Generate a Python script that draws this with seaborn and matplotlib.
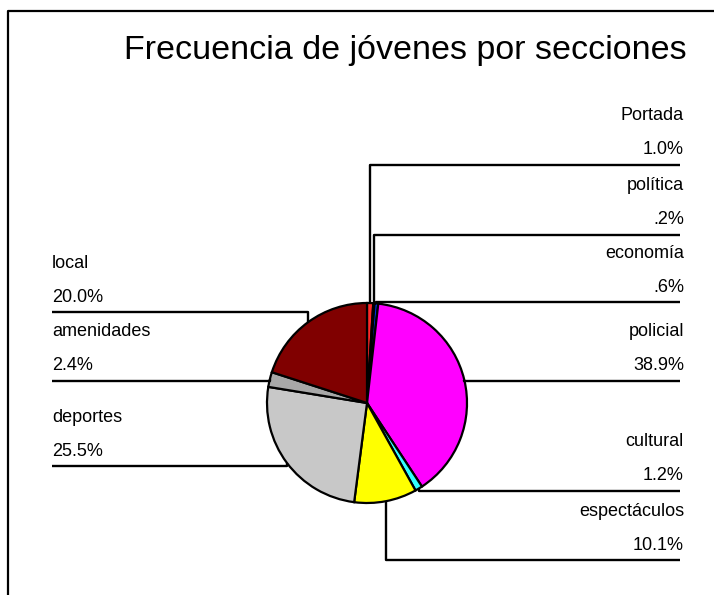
import matplotlib
matplotlib.use("Agg")
import matplotlib.pyplot as plt
import seaborn as sns
import numpy as np

# ---- data ----
categories = ["Portada", "política", "economía", "policial", "cultural",
              "espectáculos", "deportes", "amenidades", "local"]
percentages = [1.0, 0.2, 0.6, 38.9, 1.2, 10.1, 25.5, 2.4, 20.0]
pct_labels = ["1.0%", ".2%", ".6%", "38.9%", "1.2%", "10.1%", "25.5%", "2.4%", "20.0%"]
title = "Frecuencia de jóvenes por secciones"

# ---- style / layout ----
colors = ["#ff2a2a", "#1a1a80", "#0033dd", "#ff00ff", "#33ffff",
          "#ffff00", "#c8c8c8", "#a8a8a8", "#800000"]
label_side = ["R", "R", "R", "R", "R", "R", "L", "L", "L"]
label_line_y = [165, 235, 302, 381, 491, 560, 466, 381, 312]  # pixel rows (top-down)

sns.set_theme(style="white")
plt.rcParams["font.family"] = ["Liberation Sans", "DejaVu Sans"]

W, H = 714, 595
fig = plt.figure(figsize=(W / 100, H / 100), dpi=100)
ax = fig.add_axes([0, 0, 1, 1])

cx, cy, R = 367, H - 403, 100
wedges, _ = ax.pie(percentages, colors=colors, startangle=90, counterclock=False,
                   center=(cx, cy), radius=R,
                   wedgeprops=dict(edgecolor="black", linewidth=1.6))
ax.set_xlim(0, W)
ax.set_ylim(0, H)
ax.set_aspect("auto")
ax.axis("off")

# frame (top and left)
ax.plot([8, 8, W], [0, H - 11, H - 11], color="black", lw=1.6, clip_on=False)

ax.text(405, H - 51, title, ha="center", va="center", fontsize=24.5, color="black")

for w, name, pct, side, ly in zip(wedges, categories, pct_labels, label_side, label_line_y):
    mid = np.deg2rad((w.theta1 + w.theta2) / 2)
    ax_x = cx + R * np.cos(mid)
    ax_y = cy + R * np.sin(mid)
    Ly = H - ly
    if side == "R":
        xs = [ax_x, ax_x, 680]
        tx, ha = 684, "right"
    else:
        xs = [ax_x, ax_x, 52]
        tx, ha = 52, "left"
    ax.plot(xs, [ax_y, Ly, Ly], color="black", lw=1.7, solid_capstyle="butt")
    ax.text(tx, Ly + 49, name, ha=ha, va="center", fontsize=13, color="black")
    ax.text(tx, Ly + 15, pct, ha=ha, va="center", fontsize=13, color="black")

fig.savefig("out.png", dpi=100)
